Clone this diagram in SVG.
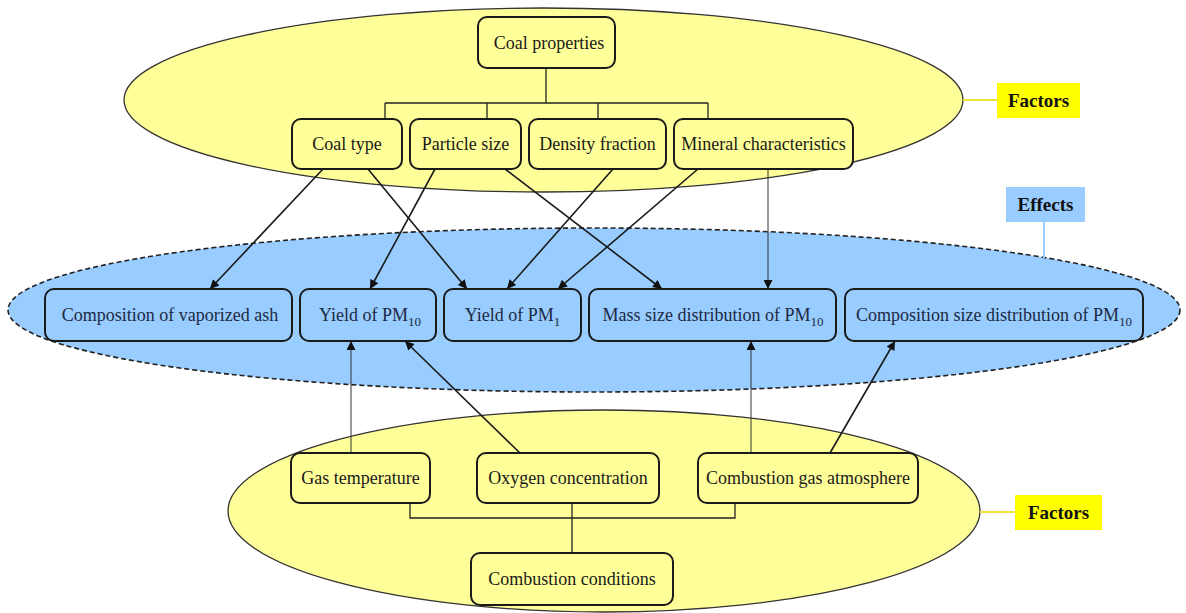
<svg xmlns="http://www.w3.org/2000/svg" width="1186" height="613" viewBox="0 0 1186 613">
  <style>
    .box { stroke: #1a1a1a; stroke-width: 2; }
    .yb { fill: #FFFF99; }
    .bb { fill: #99CCFF; }
    .lbl { font-family: "Liberation Serif", "Times New Roman", serif; font-size: 18px; fill: #1a1a1a; text-anchor: middle; }
    .navy { fill: #1c2a44; }
    .sub { font-size: 13px; }
    .tag { font-family: "Liberation Serif", "Times New Roman", serif; font-size: 19px; font-weight: bold; fill: #111; text-anchor: middle; }
    .tree { stroke: #222; stroke-width: 1.3; fill: none; }
    .arr { stroke: #1a1a1a; stroke-width: 1.6; fill: none; marker-end: url(#head); }
    .thin { stroke: #333; stroke-width: 1; fill: none; marker-end: url(#head); }
  </style>
  <defs>
    <marker id="head" viewBox="0 0 10 10" refX="10" refY="5" markerWidth="10" markerHeight="9" markerUnits="userSpaceOnUse" orient="auto">
      <path d="M0,0 L10,5 L0,10 z" fill="#111"/>
    </marker>
  </defs>

  <rect width="1186" height="613" fill="#ffffff"/>

  <!-- group outlines -->
  <g id="factors-top">
    <ellipse cx="543.5" cy="100" rx="419.5" ry="92" fill="#FFFF99" stroke="#333" stroke-width="1.3"/>
    <line x1="963" y1="100" x2="997" y2="100" stroke="#F2E33A" stroke-width="2"/>
    <rect x="997" y="83" width="83" height="35" fill="#FFFF00"/>
    <text class="tag" x="1038.5" y="107">Factors</text>
  </g>
  <g id="effects">
    <ellipse cx="594" cy="310" rx="586" ry="82" fill="#99CCFF" stroke="#222" stroke-width="1.6" stroke-dasharray="5 3"/>
    <line x1="1044" y1="222" x2="1044" y2="258" stroke="#99CCFF" stroke-width="2"/>
    <rect x="1006" y="187" width="79" height="35" fill="#99CCFF"/>
    <text class="tag" x="1045.5" y="211">Effects</text>
  </g>
  <g id="factors-bottom">
    <ellipse cx="604" cy="511" rx="376" ry="101" fill="#FFFF99" stroke="#333" stroke-width="1.3"/>
    <line x1="980" y1="512" x2="1015" y2="512" stroke="#F2E33A" stroke-width="2"/>
    <rect x="1015" y="495" width="87" height="35" fill="#FFFF00"/>
    <text class="tag" x="1058.5" y="519">Factors</text>
  </g>

  <!-- connectors -->
  <g id="connectors">
    <path class="tree" d="M546,68 V103 M385,103 H708 M385,103 V119 M487,103 V119 M598,103 V119 M708,103 V119"/>
    <path class="tree" d="M410,503 V518 H735 V503 M572,503 V553"/>
    <line class="arr" x1="323" y1="169" x2="210" y2="289"/>
    <line class="arr" x1="368" y1="169" x2="467" y2="289"/>
    <line class="arr" x1="435" y1="169" x2="370" y2="289"/>
    <line class="arr" x1="505" y1="169" x2="662" y2="289"/>
    <line class="arr" x1="613" y1="169" x2="507" y2="289"/>
    <line class="arr" x1="698" y1="169" x2="558" y2="289"/>
    <line class="thin" x1="768" y1="169" x2="768" y2="289"/>
    <line class="thin" x1="351" y1="453" x2="351" y2="341"/>
    <line class="arr" x1="520" y1="453" x2="405" y2="341"/>
    <line class="thin" x1="751" y1="453" x2="751" y2="341"/>
    <line class="arr" x1="830" y1="453" x2="895" y2="341"/>
  </g>

  <!-- coal properties -->
  <g id="coal-properties">
    <rect class="box yb" x="478" y="17" width="137" height="51" rx="9"/>
    <text class="lbl" x="549" y="49">Coal properties</text>
  </g>
  <g id="coal-type">
    <rect class="box yb" x="292" y="119" width="110" height="50" rx="9"/>
    <text class="lbl" x="347" y="150">Coal type</text>
  </g>
  <g id="particle-size">
    <rect class="box yb" x="410" y="119" width="111" height="50" rx="9"/>
    <text class="lbl" x="465.5" y="150">Particle size</text>
  </g>
  <g id="density-fraction">
    <rect class="box yb" x="529" y="119" width="137" height="50" rx="9"/>
    <text class="lbl" x="597.5" y="150">Density fraction</text>
  </g>
  <g id="mineral-characteristics">
    <rect class="box yb" x="674" y="119" width="179" height="50" rx="9"/>
    <text class="lbl" x="763.5" y="150">Mineral characteristics</text>
  </g>

  <!-- effects -->
  <g id="vaporized-ash">
    <rect class="box bb" x="45" y="289" width="247" height="52" rx="9"/>
    <text class="lbl navy" x="170" y="321">Composition of vaporized ash</text>
  </g>
  <g id="yield-pm10">
    <rect class="box bb" x="300" y="289" width="136" height="52" rx="9"/>
    <text class="lbl navy" x="370" y="321">Yield of PM<tspan class="sub" dy="5">10</tspan></text>
  </g>
  <g id="yield-pm1">
    <rect class="box bb" x="444" y="289" width="137" height="52" rx="9"/>
    <text class="lbl navy" x="512.5" y="321">Yield of PM<tspan class="sub" dy="5">1</tspan></text>
  </g>
  <g id="mass-size">
    <rect class="box bb" x="589" y="289" width="247" height="52" rx="9"/>
    <text class="lbl navy" x="713" y="321">Mass size distribution of PM<tspan class="sub" dy="5">10</tspan></text>
  </g>
  <g id="composition-size">
    <rect class="box bb" x="845" y="289" width="298" height="52" rx="9"/>
    <text class="lbl navy" x="994" y="321">Composition size distribution of PM<tspan class="sub" dy="5">10</tspan></text>
  </g>

  <!-- combustion conditions -->
  <g id="gas-temperature">
    <rect class="box yb" x="291" y="453" width="139" height="50" rx="9"/>
    <text class="lbl" x="360.5" y="484">Gas temperature</text>
  </g>
  <g id="oxygen-concentration">
    <rect class="box yb" x="477" y="453" width="182" height="50" rx="9"/>
    <text class="lbl" x="568" y="484">Oxygen concentration</text>
  </g>
  <g id="gas-atmosphere">
    <rect class="box yb" x="698" y="453" width="220" height="50" rx="9"/>
    <text class="lbl" x="808" y="484">Combustion gas atmosphere</text>
  </g>
  <g id="combustion-conditions">
    <rect class="box yb" x="471" y="553" width="202" height="52" rx="9"/>
    <text class="lbl" x="572" y="585">Combustion conditions</text>
  </g>
</svg>
